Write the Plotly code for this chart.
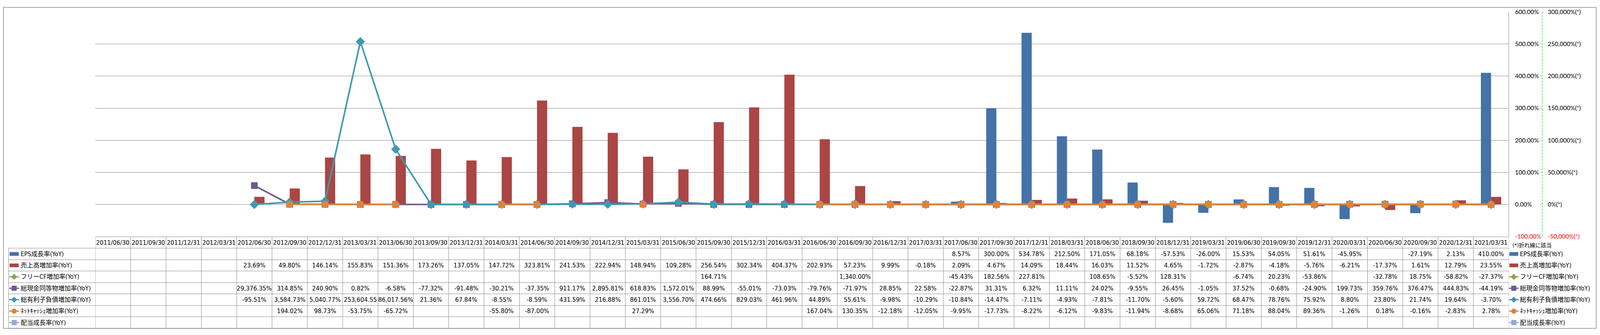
import plotly.graph_objects as go

# Reference coordinate frame (all layout positions below are given in this frame
# and mapped onto the real page through paper fractions / a pixel overlay axis).
W, H = 4701, 858

dates = ["2011/06/30", "2011/09/30", "2011/12/31", "2012/03/31", "2012/06/30", "2012/09/30",
         "2012/12/31", "2013/03/31", "2013/06/30", "2013/09/30", "2013/12/31", "2014/03/31",
         "2014/06/30", "2014/09/30", "2014/12/31", "2015/03/31", "2015/06/30", "2015/09/30",
         "2015/12/31", "2016/03/31", "2016/06/30", "2016/09/30", "2016/12/31", "2017/03/31",
         "2017/06/30", "2017/09/30", "2017/12/31", "2018/03/31", "2018/06/30", "2018/09/30",
         "2018/12/31", "2019/03/31", "2019/06/30", "2019/09/30", "2019/12/31", "2020/03/31",
         "2020/06/30", "2020/09/30", "2020/12/31", "2021/03/31"]

N = None
eps_growth = [N, N, N, N, N, N, N, N, N, N, N, N, N, N, N, N, N, N, N, N, N, N, N, N,
              8.57, 300.00, 534.78, 212.50, 171.05, 68.18, -57.53, -26.00, 15.53, 54.05, 51.61,
              -45.95, N, -27.19, 2.13, 410.00]
sales_growth = [N, N, N, N, 23.69, 49.80, 146.14, 155.83, 151.36, 173.26, 137.05, 147.72,
                323.81, 241.53, 222.94, 148.94, 109.28, 256.54, 302.34, 404.37, 202.93, 57.23,
                9.99, -0.18, 2.09, 4.67, 14.09, 18.44, 16.03, 11.52, 4.65, -1.72, -2.87, -4.18,
                -5.76, -6.21, -17.37, 1.61, 12.79, 23.55]
fcf_growth = [N, N, N, N, N, N, N, N, N, N, N, N, N, N, N, N, N, 164.71, N, N, N, 1340.00,
              N, N, -45.43, 182.56, 227.81, N, 108.65, -5.52, 128.31, N, -6.74, 20.23, -53.86,
              N, -32.78, 18.75, -58.82, -27.37]
cash_growth = [N, N, N, N, 29376.35, 314.85, 240.90, 0.82, -6.58, -77.32, -91.48, -30.21,
               -37.35, 911.17, 2895.81, 618.83, 1572.01, 88.99, -55.01, -73.03, -79.76, -71.97,
               28.85, 22.58, -22.87, 31.31, 6.32, 11.11, 24.02, -9.55, 26.45, -1.05, 37.52,
               -0.68, -24.90, 199.73, 359.76, 376.47, 444.83, -44.19]
debt_growth = [N, N, N, N, -95.51, 3584.73, 5040.77, 253604.55, 86017.56, 21.36, 67.84, -8.55,
               -8.59, 431.59, 216.88, 861.01, 3556.70, 474.66, 829.03, 461.96, 44.89, 55.61,
               -9.98, -10.29, -10.84, -14.47, -7.11, -4.93, -7.81, -11.70, -5.60, 59.72, 68.47,
               78.76, 75.92, 8.80, 23.80, 21.74, 19.64, -3.70]
netcash_growth = [N, N, N, N, N, 194.02, 98.73, -53.75, -65.72, N, N, -55.80, -87.00, N, N,
                  27.29, N, N, N, N, 167.04, 130.35, -12.18, -12.05, -9.95, -17.73, -8.22,
                  -6.12, -9.83, -11.94, -8.68, 65.06, 71.18, 88.04, 89.36, -1.26, 0.18, -0.16,
                  -2.83, 2.78]
dividend_growth = [N] * 40

series_names = ["EPS成長率(YoY)", "売上高増加率(YoY)", "フリーCF増加率(YoY)",
                "総現金同等物増加率(YoY)", "総有利子負債増加率(YoY)",
                "ﾈｯﾄｷｬｯｼｭ増加率(YoY)", "配当成長率(YoY)"]
left_ticks = [-100, 0, 100, 200, 300, 400, 500, 600]
right_ticks = [-50000, 0, 50000, 100000, 150000, 200000, 250000, 300000]
note_text = "(*)折れ線に該当"

# ---------------- styling ----------------
colors = ["#4572A7", "#AA4643", "#89A54E", "#71588F", "#4198AF", "#DB843D", "#93A9CF"]
kinds = ["bar", "bar", "diamond", "square", "diamond", "circle", "square"]
msize = {"diamond": 18, "square": 17, "circle": 19}
NARROW = "DejaVu Sans Condensed, Noto Sans CJK JP, sans-serif"
AXFONT = "Lato, Noto Sans, sans-serif"
GRID = "#868686"
GREEN = "#00DD00"

plot_l, plot_r, plot_t, plot_b = 272, 4441, 13, 612
row_edges = [613, 643, 674, 704, 735, 765, 796, 826, 857]
label_left = 16
y2_line_x = 4540
PAGE_H = 842
CELL_CHARS = 10   # the table cells show at most this many characters (rest is clipped)

series = [eps_growth, sales_growth, fcf_growth, cash_growth, debt_growth, netcash_growth,
          dividend_growth]
xs = list(range(len(dates)))

fig = go.Figure()
for k in range(2):
    fig.add_trace(go.Bar(x=xs, y=series[k], name=series_names[k], marker_color=colors[k],
                         marker_line_width=0, yaxis="y", showlegend=False))
for k in range(2, 7):
    fig.add_trace(go.Scatter(x=xs, y=series[k], name=series_names[k], yaxis="y2",
                             mode="lines+markers", connectgaps=False,
                             line=dict(color=colors[k], width=4),
                             marker=dict(symbol=kinds[k], size=msize[kinds[k]], color=colors[k],
                                         line=dict(width=0)),
                             showlegend=False, cliponaxis=False))


def red(s):
    return '<span style="color:#FF0000">' + s + "</span>"


left_text = [(red(f"{v:.2f}%") if v < 0 else f"{v:.2f}%") for v in left_ticks]
right_text = [(red(f"{v:,}%(*)") if v < 0 else f"{v:,}%(*)") for v in right_ticks]

shapes = []
annotations = []


def hline(x0, x1, y, color=GRID, width=1):
    shapes.append(dict(type="line", xref="x3", yref="y3", x0=x0, x1=x1, y0=y, y1=y,
                       line=dict(color=color, width=width), layer="above"))


# outer border
shapes.append(dict(type="rect", xref="x3", yref="y3", x0=1, x1=W - 2, y0=1, y1=H - 1,
                   line=dict(color=GRID, width=1.5), fillcolor="rgba(0,0,0,0)", layer="above"))
# secondary axis dashed line
shapes.append(dict(type="line", xref="x3", yref="y3", x0=y2_line_x, x1=y2_line_x,
                   y0=plot_t, y1=plot_b, line=dict(color=GREEN, width=1.2, dash="5px,3px"),
                   layer="above"))

# table grid
hline(plot_l, plot_r, row_edges[0])
for e in row_edges[1:]:
    hline(label_left, plot_r, e)
for i in range(len(dates) + 1):
    shapes.append(dict(type="line", xref="x", yref="y3", x0=i - 0.5, x1=i - 0.5,
                       y0=row_edges[0], y1=row_edges[-1], line=dict(color=GRID, width=1),
                       layer="above"))
shapes.append(dict(type="line", xref="x3", yref="y3", x0=label_left, x1=label_left,
                   y0=row_edges[1], y1=row_edges[-1], line=dict(color=GRID, width=1),
                   layer="above"))

centers = [(row_edges[j] + row_edges[j + 1]) / 2 for j in range(len(row_edges) - 1)]
CELLFONT = 16.5

for i, d in enumerate(dates):
    annotations.append(dict(x=i, xref="x", y=centers[0], yref="y3", text=d, showarrow=False,
                            font=dict(family=NARROW, size=CELLFONT, color="#000"),
                            xanchor="center", yanchor="middle"))


def fmt(v):
    s = f"{v:,.2f}%"
    return s[:CELL_CHARS]


for k, vals in enumerate(series):
    yc = centers[k + 1]
    for i, v in enumerate(vals):
        if v is None:
            continue
        annotations.append(dict(x=i, xref="x", y=yc, yref="y3", text=fmt(v), showarrow=False,
                                font=dict(family=NARROW, size=CELLFONT, color="#000"),
                                xanchor="center", yanchor="middle"))

# row labels + legend icons
icon_sets = [(19, 46, 50), (4443, 4469, 4472)]
for k, name in enumerate(series_names):
    yc = centers[k + 1]
    for (ix0, ix1, tx) in icon_sets:
        if kinds[k] == "bar":
            shapes.append(dict(type="rect", xref="x3", yref="y3", x0=ix0, x1=ix1,
                               y0=yc - 5, y1=yc + 5, fillcolor=colors[k],
                               line=dict(width=0), layer="above"))
        else:
            shapes.append(dict(type="line", xref="x3", yref="y3", x0=ix0 - 1, x1=ix1 + 1,
                               y0=yc, y1=yc, line=dict(color=colors[k], width=3),
                               layer="above"))
            fig.add_trace(go.Scatter(x=[(ix0 + ix1) / 2], y=[yc], xaxis="x3", yaxis="y3",
                                     mode="markers", showlegend=False, cliponaxis=False,
                                     hoverinfo="skip",
                                     marker=dict(symbol=kinds[k], color=colors[k],
                                                 size=13 if kinds[k] != "diamond" else 12,
                                                 line=dict(width=0))))
        annotations.append(dict(x=tx, xref="x3", y=yc, yref="y3", text=name, showarrow=False,
                                font=dict(family=NARROW, size=16, color="#000"),
                                xanchor="left", yanchor="middle"))

annotations.append(dict(x=4450, xref="x3", y=635, yref="y3", text=note_text, showarrow=False,
                        font=dict(family=NARROW, size=14, color="#000"),
                        xanchor="left", yanchor="middle"))

fig.update_layout(
    height=PAGE_H,
    autosize=True,
    margin=dict(l=0, r=0, t=0, b=0, pad=0),
    paper_bgcolor="white", plot_bgcolor="rgba(0,0,0,0)",
    barmode="group", bargap=1 - 60 / ((plot_r - plot_l) / 40), bargroupgap=0,
    showlegend=False,
    xaxis=dict(domain=[plot_l / W, plot_r / W], range=[-0.5, len(dates) - 0.5],
               showticklabels=False, showgrid=False, zeroline=False, ticks="",
               showline=False, fixedrange=True),
    yaxis=dict(domain=[(H - plot_b) / H, (H - plot_t) / H], range=[-100, 600],
               side="right", tickvals=left_ticks, ticktext=left_text,
               showgrid=True, gridcolor=GRID, gridwidth=1.3, zeroline=False,
               showline=True, linecolor=GRID, linewidth=1.3, ticks="",
               ticklabelstandoff=12, tickfont=dict(family=AXFONT, size=15.5, color="#000")),
    yaxis2=dict(overlaying="y", side="right", anchor="free", position=y2_line_x / W,
                range=[-50000, 300000], tickvals=right_ticks, ticktext=right_text,
                showgrid=False, zeroline=False, showline=False,
                ticks="inside", ticklen=5, tickcolor=GREEN, tickwidth=1,
                ticklabelstandoff=13, tickfont=dict(family=AXFONT, size=15.5, color="#000")),
    xaxis3=dict(domain=[0, 1], range=[0, W], visible=False, anchor="y3", fixedrange=True),
    yaxis3=dict(domain=[0, 1], range=[H, 0], visible=False, anchor="x3", fixedrange=True),
    shapes=shapes,
    annotations=annotations,
)

fig.write_html("out.html")
